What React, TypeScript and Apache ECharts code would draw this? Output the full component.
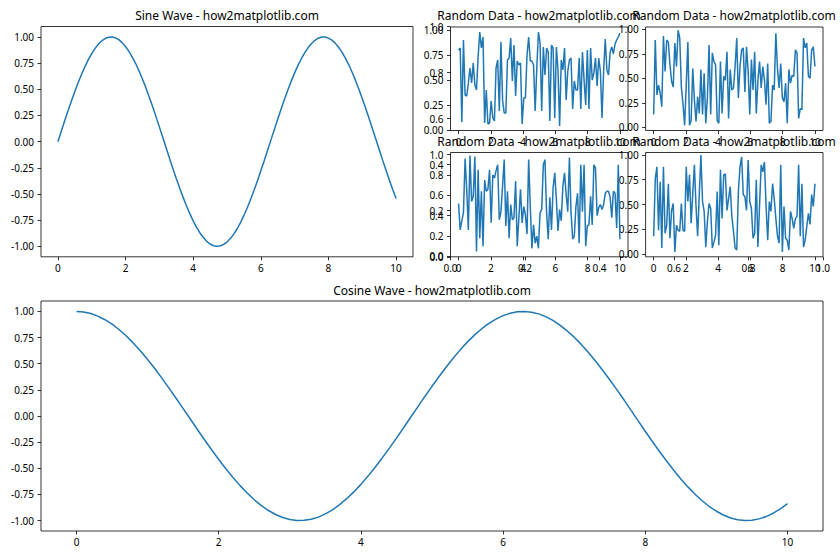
import React, { useEffect, useRef } from "react";
import * as echarts from "echarts";

const WAVE_X = [0, 0.1, 0.2, 0.3, 0.4, 0.5, 0.6, 0.7, 0.8, 0.9,
  1.0, 1.1, 1.2, 1.3, 1.4, 1.5, 1.6, 1.7, 1.8, 1.9,
  2.0, 2.1, 2.2, 2.3, 2.4, 2.5, 2.6, 2.7, 2.8, 2.9,
  3.0, 3.1, 3.2, 3.3, 3.4, 3.5, 3.6, 3.7, 3.8, 3.9,
  4.0, 4.1, 4.2, 4.3, 4.4, 4.5, 4.6, 4.7, 4.8, 4.9,
  5.0, 5.1, 5.2, 5.3, 5.4, 5.5, 5.6, 5.7, 5.8, 5.9,
  6.0, 6.1, 6.2, 6.3, 6.4, 6.5, 6.6, 6.7, 6.8, 6.9,
  7.0, 7.1, 7.2, 7.3, 7.4, 7.5, 7.6, 7.7, 7.8, 7.9,
  8.0, 8.1, 8.2, 8.3, 8.4, 8.5, 8.6, 8.7, 8.8, 8.9,
  9.0, 9.1, 9.2, 9.3, 9.4, 9.5, 9.6, 9.7, 9.8, 9.9, 10.0];
const SINE_Y = [0.0, 0.1, 0.199, 0.296, 0.389, 0.479, 0.565, 0.644, 0.717, 0.783,
  0.841, 0.891, 0.932, 0.964, 0.985, 0.997, 1.0, 0.992, 0.974, 0.946,
  0.909, 0.863, 0.808, 0.746, 0.675, 0.598, 0.516, 0.427, 0.335, 0.239,
  0.141, 0.042, -0.058, -0.158, -0.256, -0.351, -0.443, -0.53, -0.612, -0.688,
  -0.757, -0.818, -0.872, -0.916, -0.952, -0.978, -0.994, -1.0, -0.996, -0.982,
  -0.959, -0.926, -0.883, -0.832, -0.773, -0.706, -0.631, -0.551, -0.465, -0.374,
  -0.279, -0.182, -0.083, 0.017, 0.117, 0.215, 0.312, 0.405, 0.494, 0.578,
  0.657, 0.729, 0.794, 0.85, 0.899, 0.938, 0.968, 0.988, 0.999, 0.999,
  0.989, 0.97, 0.941, 0.902, 0.855, 0.798, 0.734, 0.663, 0.585, 0.501,
  0.412, 0.319, 0.223, 0.124, 0.025, -0.075, -0.174, -0.271, -0.366, -0.458, -0.544];
const COSINE_Y = [1.0, 0.995, 0.98, 0.955, 0.921, 0.878, 0.825, 0.765, 0.697, 0.622,
  0.54, 0.454, 0.362, 0.267, 0.17, 0.071, -0.029, -0.129, -0.227, -0.323,
  -0.416, -0.505, -0.589, -0.666, -0.737, -0.801, -0.857, -0.904, -0.942, -0.971,
  -0.99, -0.999, -0.998, -0.987, -0.967, -0.936, -0.897, -0.848, -0.791, -0.726,
  -0.654, -0.575, -0.49, -0.401, -0.307, -0.211, -0.112, -0.012, 0.087, 0.187,
  0.284, 0.378, 0.469, 0.554, 0.635, 0.709, 0.776, 0.835, 0.886, 0.927,
  0.96, 0.983, 0.997, 1.0, 0.993, 0.977, 0.951, 0.915, 0.869, 0.815,
  0.754, 0.685, 0.608, 0.526, 0.438, 0.347, 0.252, 0.155, 0.054, -0.046,
  -0.146, -0.244, -0.34, -0.431, -0.519, -0.602, -0.678, -0.749, -0.811, -0.866,
  -0.911, -0.947, -0.975, -0.993, -0.999, -0.997, -0.984, -0.962, -0.93, -0.889, -0.839];

const RAND_UL = [0.80, 0.82, 0.08, 0.90, 0.35, 0.34, 0.47, 0.62, 0.47, 0.67,
  0.45, 0.40, 0.73, 0.98, 0.82, 0.93, 0.07, 0.40, 0.06, 0.07,
  0.29, 0.12, 0.09, 0.62, 0.70, 0.19, 0.88, 0.30, 0.17, 0.17,
  0.70, 0.72, 0.92, 0.49, 0.85, 0.34, 0.69, 0.65, 0.67, 0.06,
  0.32, 0.32, 0.75, 0.93, 0.69, 0.69, 0.65, 0.19, 0.62, 0.98,
  0.87, 0.19, 0.83, 0.55, 0.82, 0.78, 0.09, 0.85, 0.82, 0.12,
  0.83, 0.60, 0.04, 0.70, 0.60, 0.82, 0.30, 0.59, 0.70, 0.72,
  0.21, 0.49, 0.40, 0.40, 0.72, 0.21, 0.78, 0.50, 0.25, 0.80,
  0.21, 0.82, 0.50, 0.57, 0.72, 0.44, 0.72, 0.59, 0.12, 0.59,
  0.91, 0.60, 0.55, 0.78, 0.83, 0.76, 0.86, 0.90, 0.93, 0.97];
const RAND_UR = [0.13, 0.89, 0.33, 0.43, 0.35, 0.21, 0.93, 0.57, 0.89, 0.87,
  0.64, 0.47, 0.41, 0.86, 0.62, 0.99, 0.91, 0.41, 0.24, 0.02,
  0.43, 0.87, 0.02, 0.07, 0.60, 0.28, 0.06, 0.31, 0.14, 0.59,
  0.13, 0.55, 0.04, 0.31, 0.84, 0.13, 0.76, 0.67, 0.64, 0.07,
  0.04, 0.67, 0.14, 0.52, 0.48, 0.77, 0.09, 0.59, 0.38, 0.40,
  0.62, 0.91, 0.30, 0.62, 0.79, 0.81, 0.36, 0.82, 0.57, 0.13,
  0.69, 0.38, 0.77, 0.14, 0.48, 0.67, 0.40, 0.62, 0.48, 0.23,
  0.65, 0.04, 0.06, 0.43, 0.38, 0.96, 0.60, 0.40, 0.65, 0.30,
  0.26, 0.45, 0.04, 0.59, 0.45, 0.53, 0.52, 0.79, 0.76, 0.09,
  0.19, 0.18, 0.91, 0.81, 0.86, 0.52, 0.50, 0.79, 0.82, 0.62];
const RAND_LL = [0.52, 0.26, 0.35, 0.43, 0.96, 0.66, 0.26, 0.99, 0.54, 0.59,
  0.98, 0.05, 0.85, 0.18, 0.64, 0.10, 0.75, 0.64, 0.66, 0.85,
  0.33, 0.80, 0.77, 0.84, 0.90, 0.36, 0.44, 0.69, 0.95, 0.30,
  0.64, 0.18, 0.51, 0.36, 0.38, 0.74, 0.10, 0.38, 0.66, 0.33,
  0.49, 0.41, 0.22, 0.95, 0.49, 0.08, 0.31, 0.13, 0.20, 0.08,
  0.43, 0.46, 0.90, 0.95, 0.43, 0.17, 0.58, 0.26, 0.67, 0.82,
  0.56, 0.25, 0.46, 0.35, 0.69, 0.82, 0.61, 0.44, 0.97, 0.43,
  0.17, 0.20, 0.49, 0.62, 0.13, 0.90, 0.44, 0.90, 0.10, 0.30,
  0.31, 0.59, 0.31, 0.90, 0.87, 0.40, 0.48, 0.51, 0.46, 0.51,
  0.62, 0.64, 0.64, 0.58, 0.38, 0.64, 0.62, 0.28, 0.90, 0.17];
const RAND_LR = [0.18, 0.76, 0.88, 0.24, 0.73, 0.06, 0.88, 0.21, 0.29, 0.71,
  0.16, 0.44, 0.51, 0.02, 0.29, 0.24, 0.23, 0.51, 0.24, 0.23,
  0.88, 0.53, 0.80, 0.31, 0.61, 0.90, 0.48, 0.18, 0.60, 1.00,
  0.53, 0.43, 0.07, 0.33, 0.51, 0.46, 0.06, 0.12, 0.19, 0.63,
  0.09, 0.85, 0.36, 0.80, 0.81, 0.44, 0.56, 0.68, 0.38, 0.23,
  0.06, 0.04, 0.63, 0.88, 0.98, 0.60, 0.58, 0.44, 0.95, 0.53,
  0.46, 0.16, 0.21, 0.75, 0.07, 0.49, 0.90, 0.83, 0.93, 0.49,
  0.14, 0.53, 0.43, 0.71, 0.56, 0.36, 0.18, 0.11, 0.90, 0.02,
  0.48, 0.16, 0.14, 0.04, 0.43, 0.36, 0.26, 0.36, 0.38, 0.90,
  0.18, 0.71, 0.07, 0.14, 0.28, 0.41, 0.30, 0.60, 0.48, 0.71];

const X_TICKS = [0, 2, 4, 6, 8, 10];
const WAVE_Y_TICKS = [-1, -0.75, -0.5, -0.25, 0, 0.25, 0.5, 0.75, 1];
const QUARTER_TICKS = [0, 0.25, 0.5, 0.75, 1];
const FIFTH_TICKS = [0, 0.2, 0.4, 0.6, 0.8, 1];

const SINE_TITLE = "Sine Wave - how2matplotlib.com";
const COSINE_TITLE = "Cosine Wave - how2matplotlib.com";
const RANDOM_TITLE = "Random Data - how2matplotlib.com";

const FONT = "'Noto Sans', 'DejaVu Sans', sans-serif";
const LINE_COLOR = "#1f77b4";

function fmtInt(v: number) { return String(Math.round(v)); }
function fmt2(v: number) { return v.toFixed(2); }
function fmt1(v: number) { return v.toFixed(1); }

function axis(gridIndex: number, min: number, max: number, ticks: number[], fmt: (v: number) => string, margin: number) {
  return {
    type: "value",
    gridIndex,
    min,
    max,
    axisLine: { show: false, onZero: false },
    splitLine: { show: false },
    axisTick: { show: true, inside: false, length: 3.5, lineStyle: { color: "#000", width: 0.8 }, customValues: ticks },
    axisLabel: { show: true, customValues: ticks, formatter: (v: number) => fmt(v), color: "#000", fontSize: 10, fontFamily: FONT, margin },
  };
}

function pairs(xs: number[], ys: number[]) {
  return ys.map((y, i) => [xs[i], y]);
}
function indexPairs(ys: number[]) {
  const step = 10 / (ys.length - 1);
  return ys.map((y, i) => [i * step, y]);
}

function lineSeries(idx: number, data: number[][]) {
  return {
    type: "line",
    xAxisIndex: idx,
    yAxisIndex: idx,
    data,
    showSymbol: false,
    symbol: "none",
    smooth: false,
    lineStyle: { color: LINE_COLOR, width: 1.5 },
    silent: true,
  };
}

function title(text: string, cx: number, cy: number) {
  return {
    text,
    left: cx,
    top: cy,
    padding: 0,
    textAlign: "center",
    textVerticalAlign: "middle",
    textStyle: { fontSize: 12, fontWeight: "normal", color: "#000", fontFamily: FONT },
  };
}

export default function App() {
  const ref = useRef<HTMLDivElement>(null);
  useEffect(() => {
    if (!ref.current) return;
    const chart = echarts.init(ref.current, null, { renderer: "svg" });
    const frame = { show: true, borderColor: "#000", borderWidth: 0.8, backgroundColor: "transparent" };
    const innerFrame = { show: true, borderColor: "#000", borderWidth: 0.8, backgroundColor: "#fff" };
    const G = { outerBoundsMode: "none", containLabel: false };
    const option: any = {
      animation: false,
      backgroundColor: "#fff",
      textStyle: { fontFamily: FONT },
      title: [
        title(SINE_TITLE, 227, 15),
        title(COSINE_TITLE, 432, 290),
        title(RANDOM_TITLE, 539, 15),
        title(RANDOM_TITLE, 734, 15),
        title(RANDOM_TITLE, 539, 141),
        title(RANDOM_TITLE, 734, 141),
      ],
      grid: [
        { ...G, ...frame, left: 41, top: 26.5, width: 372, height: 230.3 },
        { ...G, ...frame, left: 41, top: 301, width: 782, height: 230 },
        { ...G, show: false, left: 450.5, top: 26.5, width: 372.5, height: 230.3, z: 0 },
        { ...G, ...innerFrame, left: 450.5, top: 27, width: 177.5, height: 103.5 },
        { ...G, ...innerFrame, left: 645.6, top: 27, width: 177.4, height: 103.5 },
        { ...G, ...innerFrame, left: 450.5, top: 152.5, width: 177.5, height: 104.3 },
        { ...G, ...innerFrame, left: 645.6, top: 152.5, width: 177.4, height: 104.3 },
      ],
      xAxis: [
        axis(0, -0.5, 10.5, X_TICKS, fmtInt, 6),
        axis(1, -0.5, 10.5, X_TICKS, fmtInt, 6),
        axis(2, 0, 1, FIFTH_TICKS, fmt1, 6),
        axis(3, -0.5, 10.5, X_TICKS, fmtInt, 6),
        axis(4, -0.5, 10.5, X_TICKS, fmtInt, 6),
        axis(5, -0.5, 10.5, X_TICKS, fmtInt, 6),
        axis(6, -0.5, 10.5, X_TICKS, fmtInt, 6),
      ],
      yAxis: [
        axis(0, -1.1, 1.1, WAVE_Y_TICKS, fmt2, 7),
        axis(1, -1.1, 1.1, WAVE_Y_TICKS, fmt2, 7),
        axis(2, 0, 1, FIFTH_TICKS, fmt1, 7),
        axis(3, -0.005, 1.03, QUARTER_TICKS, fmt2, 7),
        axis(4, -0.033, 1.023, QUARTER_TICKS, fmt2, 7),
        axis(5, -0.003, 1.02, FIFTH_TICKS, fmt1, 7),
        axis(6, -0.028, 1.025, QUARTER_TICKS, fmt2, 7),
      ],
      series: [
        lineSeries(0, pairs(WAVE_X, SINE_Y)),
        lineSeries(1, pairs(WAVE_X, COSINE_Y)),
        { type: "line", xAxisIndex: 2, yAxisIndex: 2, data: [], showSymbol: false },
        lineSeries(3, indexPairs(RAND_UL)),
        lineSeries(4, indexPairs(RAND_UR)),
        lineSeries(5, indexPairs(RAND_LL)),
        lineSeries(6, indexPairs(RAND_LR)),
      ],
    };
    chart.setOption(option);
    return () => chart.dispose();
  }, []);
  return (
    <div
      ref={ref}
      style={{ position: "fixed", left: 0, top: 0, width: 840, height: 560, background: "#fff" }}
    />
  );
}
